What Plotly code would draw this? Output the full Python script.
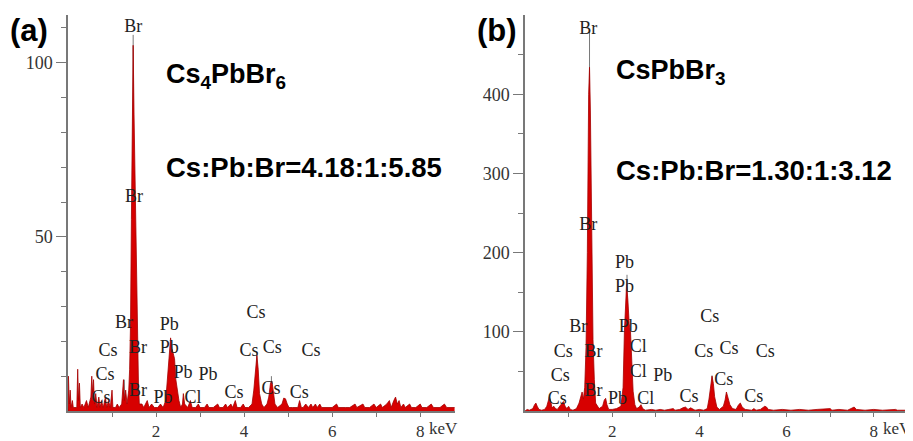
import plotly.graph_objects as go

# ---------------- data: panel (a) Cs4PbBr6 ----------------
a_energy = [0.00, 0.01, 0.03, 0.05, 0.07, 0.10, 0.12, 0.20, 0.22, 0.24, 0.26, 0.28, 0.32, 0.36, 0.42, 0.46,
            0.52, 0.54, 0.56, 0.58, 0.60, 0.63, 0.66, 0.70, 0.73, 0.76, 0.80, 0.85, 0.88, 0.92, 0.96, 1.00,
            1.02, 1.08, 1.12, 1.16, 1.22, 1.26, 1.28, 1.31, 1.34, 1.38, 1.40, 1.42, 1.44, 1.46, 1.48, 1.50,
            1.53, 1.56, 1.58, 1.60, 1.62, 1.68, 1.72, 1.80, 1.84, 1.90, 1.96, 2.04, 2.10, 2.16, 2.22, 2.26,
            2.30, 2.33, 2.36, 2.39, 2.42, 2.45, 2.48, 2.52, 2.56, 2.60, 2.62, 2.65, 2.72, 2.78, 2.82, 2.90,
            2.96, 3.00, 3.10, 3.16, 3.20, 3.30, 3.40, 3.44, 3.52, 3.58, 3.62, 3.70, 3.74, 3.80, 3.84, 3.92,
            3.98, 4.02, 4.10, 4.18, 4.22, 4.26, 4.29, 4.32, 4.35, 4.40, 4.45, 4.52, 4.56, 4.60, 4.63, 4.66,
            4.70, 4.76, 4.86, 4.90, 4.94, 4.98, 5.02, 5.10, 5.22, 5.26, 5.30, 5.34, 5.40, 5.46, 5.52, 5.56,
            5.62, 5.66, 5.72, 5.76, 5.90, 6.00, 6.10, 6.14, 6.30, 6.40, 6.52, 6.56, 6.70, 6.74, 6.85, 6.95,
            7.00, 7.10, 7.14, 7.24, 7.30, 7.34, 7.40, 7.44, 7.48, 7.52, 7.56, 7.62, 7.66, 7.76, 7.80, 7.90,
            8.00, 8.04, 8.15, 8.25, 8.30, 8.45, 8.55, 8.60, 8.78]
a_counts = [0, 10, 2, 6, 1, 3, 1, 1, 12, 3, 8, 1, 2, 1, 3, 1,
            4, 10, 5, 9, 2, 5, 1, 4, 1, 3, 1, 4, 1, 3, 1, 6,
            1, 1, 2, 1, 2, 9, 3, 6, 2, 6, 12, 25, 55, 85, 105, 85,
            60, 40, 22, 8, 2, 2, 1, 3, 1, 2, 1, 1, 2, 1, 3, 10,
            18, 21, 18, 16, 15, 9, 6, 3, 1, 2, 5, 2, 1, 3, 1, 1,
            2, 1, 1, 2, 1, 1, 2, 1, 1, 2, 1, 2, 1, 3, 1, 1,
            2, 1, 1, 2, 6, 13, 16, 12, 5, 2, 1, 2, 4, 8, 8.6, 6,
            2, 1, 2, 3.7, 3.5, 2, 1, 1, 1, 3, 1, 1, 2, 1, 2, 1,
            2, 1, 2, 1, 1, 1, 2, 1, 1, 1, 2, 1, 2, 1, 1, 2,
            1, 2, 1, 2, 3, 1, 3, 4, 2, 3, 1, 2, 1, 2, 1, 1,
            2, 1, 1, 2, 1, 1, 2, 1, 1]

a_marker_x = [1.48, 1.28, 4.29, 4.62]
a_marker_top = [108, 9, 17, 10]

a_label_text = ["Br", "Br", "Br", "Cs", "Br", "Pb", "Pb", "Cs", "Cs", "Cs", "Cs", "Cs", "Pb", "Pb",
                "Cs", "Br", "Pb", "Cl", "Cs", "Cs", "Cs"]
a_label_x = [1.48, 1.50, 1.27, 0.91, 1.59, 2.30, 2.30, 4.27, 4.11, 4.64, 5.52, 0.84, 2.61, 3.18,
             0.75, 1.59, 2.16, 2.84, 3.77, 4.61, 5.25]
a_label_y = [110, 61.4, 25.1, 17.1, 18, 24.6, 18, 28, 17.1, 18, 17.1, 10.3, 10.9, 10.3,
             3.7, 5.7, 3.7, 3.7, 4.9, 6.3, 4.9]

# ---------------- data: panel (b) CsPbBr3 ----------------
b_energy = [0.00, 0.05, 0.10, 0.18, 0.22, 0.25, 0.28, 0.32, 0.38, 0.45, 0.50, 0.53, 0.56, 0.59, 0.62, 0.66,
            0.70, 0.74, 0.80, 0.84, 0.88, 0.92, 0.96, 1.00, 1.04, 1.10, 1.18, 1.24, 1.28, 1.31, 1.34, 1.37,
            1.40, 1.43, 1.46, 1.48, 1.50, 1.53, 1.56, 1.59, 1.62, 1.70, 1.78, 1.82, 1.85, 1.88, 1.92, 2.00,
            2.10, 2.20, 2.25, 2.28, 2.31, 2.33, 2.36, 2.39, 2.42, 2.45, 2.48, 2.52, 2.56, 2.62, 2.66, 2.70,
            2.76, 2.90, 3.00, 3.10, 3.20, 3.30, 3.40, 3.44, 3.55, 3.62, 3.68, 3.74, 3.80, 3.90, 4.00, 4.10,
            4.18, 4.22, 4.26, 4.29, 4.32, 4.35, 4.40, 4.46, 4.55, 4.59, 4.62, 4.65, 4.70, 4.76, 4.84, 4.90,
            4.94, 4.98, 5.05, 5.20, 5.25, 5.30, 5.40, 5.50, 5.54, 5.58, 5.70, 5.90, 6.10, 6.30, 6.50, 6.70,
            7.00, 7.04, 7.20, 7.40, 7.55, 7.60, 7.80, 8.00, 8.20, 8.50, 8.54, 8.80]
b_counts = [0, 2, 1, 3, 8, 10, 6, 2, 1, 2, 6, 14, 18, 12, 4, 6,
            3, 2, 6, 10, 12, 6, 3, 6, 2, 1, 3, 10, 18, 24, 15, 30,
            80, 200, 400, 434, 380, 210, 90, 40, 10, 3, 6, 14, 16, 8, 2, 2,
            3, 6, 30, 100, 150, 160, 140, 110, 100, 60, 25, 8, 3, 5, 8, 3,
            1, 2, 1, 2, 1, 2, 3, 1, 2, 4, 5, 2, 4, 1, 2, 1,
            3, 15, 32, 44, 35, 18, 5, 2, 6, 14, 24, 18, 8, 3, 2, 8,
            10, 5, 2, 1, 3, 1, 2, 6, 5, 2, 1, 2, 1, 2, 1, 2,
            3, 1, 2, 1, 5, 2, 1, 2, 1, 2, 1, 1]

b_marker_x = [1.48, 2.34, 4.29]
b_marker_top = [482, 172, 45]

b_label_text = ["Br", "Br", "Pb", "Pb", "Br", "Pb", "Cs", "Cs", "Br", "Cl", "Cs", "Cs", "Cs",
                "Cs", "Cl", "Pb", "Cs", "Cs", "Br", "Pb", "Cl", "Cs", "Cs"]
b_label_x = [1.45, 1.45, 2.28, 2.28, 1.22, 2.37, 4.24, 0.88, 1.57, 2.60, 4.10, 4.68, 5.51,
             0.81, 2.60, 3.16, 4.56, 0.74, 1.57, 2.12, 2.77, 3.76, 5.25]
b_label_y = [482, 234, 186, 156, 105, 106, 118, 74, 74, 80, 74, 78, 74,
             44, 48, 44, 38, 15, 24, 15, 15, 17, 17]

panel_letters = ["(a)", "(b)"]
compounds = ["Cs<sub>4</sub>PbBr<sub>6</sub>", "CsPbBr<sub>3</sub>"]
ratios = ["Cs:Pb:Br=4.18:1:5.85", "Cs:Pb:Br=1.30:1:3.12"]
x_tickvals = [2, 4, 6, 8]
x_ticktext = ["2", "4", "6", "8"]

# ---------------- figure geometry (page pixels; page body has an 8px margin) ----------------
OFF = 8
PAGE_W, PAGE_H = 913, 441
W, H = PAGE_W - OFF, PAGE_H - OFF
PLOT_TOP, PLOT_BOT = 15, 413
T = PLOT_TOP - OFF
B = PAGE_H - PLOT_BOT


def px(pix):
    return (pix - OFF) / W


def py(pix):
    return (PLOT_BOT - pix) / (PLOT_BOT - PLOT_TOP)


fig = go.Figure()

fill_col = "rgb(215,0,0)"
line_col = "rgb(165,0,0)"
gray = "rgb(120,120,120)"

panels = [
    dict(e=a_energy, c=a_counts, mx=a_marker_x, mt=a_marker_top, lt=a_label_text, lx=a_label_x, ly=a_label_y,
         xa="x", ya="y"),
    dict(e=b_energy, c=b_counts, mx=b_marker_x, mt=b_marker_top, lt=b_label_text, lx=b_label_x, ly=b_label_y,
         xa="x2", ya="y2"),
]

for p in panels:
    for mx, mt in zip(p["mx"], p["mt"]):
        fig.add_trace(go.Scatter(x=[mx, mx], y=[0, mt], mode="lines", line=dict(color=gray, width=1),
                                 xaxis=p["xa"], yaxis=p["ya"], showlegend=False, hoverinfo="skip"))
    fig.add_trace(go.Scatter(x=p["e"], y=p["c"], mode="lines", fill="tozeroy", fillcolor=fill_col,
                             line=dict(color=line_col, width=0.8), xaxis=p["xa"], yaxis=p["ya"],
                             showlegend=False))
    fig.add_trace(go.Scatter(x=p["lx"], y=p["ly"], mode="text", text=p["lt"],
                             textfont=dict(family="Liberation Serif", size=18, color="#222"),
                             xaxis=p["xa"], yaxis=p["ya"], showlegend=False, hoverinfo="skip"))

axis_common = dict(showline=True, linecolor=gray, linewidth=1.5, showgrid=False, zeroline=False,
                   ticks="outside", tickcolor=gray, tickwidth=1.2)
yfont = dict(family="Liberation Serif", size=18, color="#333")
xfont = dict(family="Liberation Serif", size=17, color="#333")

fig.update_layout(
    width=W, height=H,
    margin=dict(l=0, r=0, t=T, b=B),
    plot_bgcolor="white", paper_bgcolor="white",
    xaxis=dict(domain=[px(68), px(455)], range=[0, 8.79], tickvals=x_tickvals, ticktext=x_ticktext,
               ticklen=4, tickfont=xfont,
               minor=dict(tickvals=[1, 3, 5, 7], ticklen=4, tickcolor=gray, ticks="outside"),
               anchor="y", **axis_common),
    yaxis=dict(domain=[0, 1], range=[0, 113.7], tickvals=[50, 100], ticklen=10, tickfont=yfont,
               minor=dict(tickvals=[10, 20, 30, 40, 60, 70, 80, 90, 110], ticklen=5, tickcolor=gray,
                          ticks="outside"),
               anchor="x", **axis_common),
    xaxis2=dict(domain=[px(525), 1.0], range=[0, 8.9], tickvals=x_tickvals, ticktext=x_ticktext,
                ticklen=4, tickfont=xfont,
                minor=dict(tickvals=[1, 3, 5, 7], ticklen=4, tickcolor=gray, ticks="outside"),
                anchor="y2", **axis_common),
    yaxis2=dict(domain=[0, 1], range=[0, 500], tickvals=[100, 200, 300, 400], ticklen=10, tickfont=yfont,
                minor=dict(tickvals=[50, 150, 250, 350, 450], ticklen=5, tickcolor=gray, ticks="outside"),
                anchor="x2", **axis_common),
)

annots = []
for i, lx in enumerate([8, 475]):
    annots.append(dict(text="<b>" + panel_letters[i] + "</b>", x=px(lx), y=py(31), xref="paper", yref="paper",
                       xanchor="left", yanchor="middle", showarrow=False,
                       font=dict(family="Liberation Sans", size=31, color="black")))
for i, (cx, cy, ry) in enumerate([(164, 76, 168), (614, 72, 171)]):
    annots.append(dict(text="<b>" + compounds[i] + "</b>", x=px(cx), y=py(cy), xref="paper", yref="paper",
                       xanchor="left", yanchor="middle", showarrow=False,
                       font=dict(family="Liberation Sans", size=27, color="black")))
    annots.append(dict(text="<b>" + ratios[i] + "</b>", x=px(cx), y=py(ry), xref="paper", yref="paper",
                       xanchor="left", yanchor="middle", showarrow=False,
                       font=dict(family="Liberation Sans", size=27.5, color="black")))
for xr in ["x", "x2"]:
    annots.append(dict(text="keV", x=8, xref=xr, y=py(431), yref="paper", xanchor="left", yanchor="middle",
                       xshift=7, showarrow=False,
                       font=dict(family="Liberation Serif", size=17, color="#333")))
fig.update_layout(annotations=annots)

fig.write_html("out.html")
